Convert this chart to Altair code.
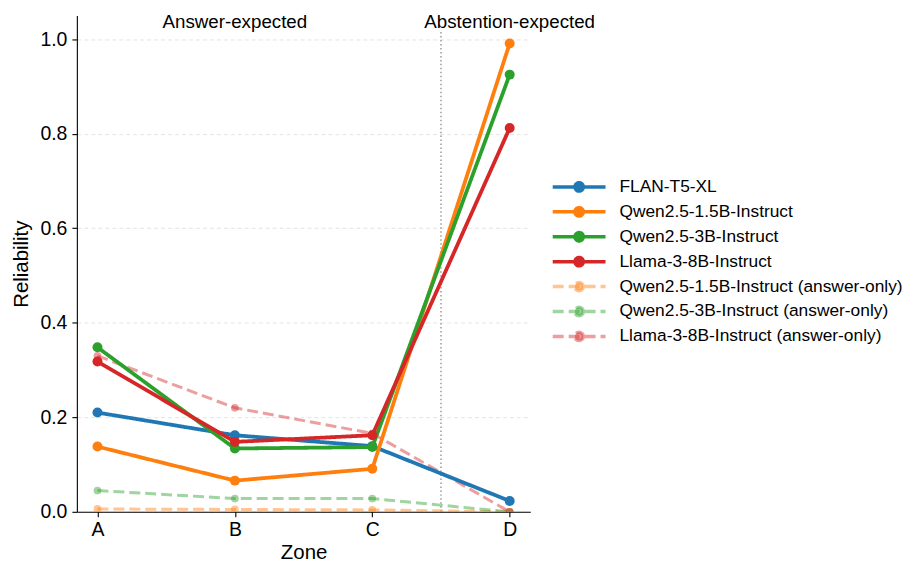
import altair as alt
import pandas as pd

zones = ["A", "B", "C", "D"]
series_names = [
    "FLAN-T5-XL",
    "Qwen2.5-1.5B-Instruct",
    "Qwen2.5-3B-Instruct",
    "Llama-3-8B-Instruct",
    "Qwen2.5-1.5B-Instruct (answer-only)",
    "Qwen2.5-3B-Instruct (answer-only)",
    "Llama-3-8B-Instruct (answer-only)",
]
flan = [0.210, 0.162, 0.139, 0.023]
qwen15 = [0.138, 0.066, 0.091, 0.991]
qwen3 = [0.348, 0.134, 0.137, 0.925]
llama = [0.318, 0.148, 0.162, 0.812]
qwen15_ans = [0.006, 0.005, 0.004, 0.0]
qwen3_ans = [0.045, 0.028, 0.028, 0.0]
llama_ans = [0.330, 0.220, 0.166, 0.0]
series_values = [flan, qwen15, qwen3, llama, qwen15_ans, qwen3_ans, llama_ans]

colors = [
    "#1f77b4", "#ff7f0e", "#2ca02c", "#d62728",
    "rgba(255,127,14,0.45)", "rgba(44,160,44,0.45)", "rgba(214,39,40,0.45)",
]
dashes = [[1, 0]] * 4 + [[11, 5]] * 3

region_labels = ["Answer-expected", "Abstention-expected"]
region_x = [1, 3]
region_y = [1.023, 1.023]
divider_x = [2.5]

rows = []
for name, vals in zip(series_names, series_values):
    for i, (z, v) in enumerate(zip(zones, vals)):
        rows.append({"series": name, "zone": z, "idx": i, "value": v})
df = pd.DataFrame(rows)

label_expr = "[" + ",".join("'%s'" % z for z in zones) + "][datum.value]"

x_enc = alt.X(
    "idx:Q",
    scale=alt.Scale(domain=[-0.15, 3.15], nice=False, zero=False),
    axis=alt.Axis(values=[0, 1, 2, 3], labelExpr=label_expr, title="Zone", grid=False),
)
y_enc = alt.Y(
    "value:Q",
    scale=alt.Scale(domain=[0, 1.05], nice=False, zero=False),
    axis=alt.Axis(values=[0, 0.2, 0.4, 0.6, 0.8, 1.0], format=".1f", title="Reliability", grid=True),
)
color_enc = alt.Color("series:N", scale=alt.Scale(domain=series_names, range=colors), title=None)
dash_enc = alt.StrokeDash("series:N", scale=alt.Scale(domain=series_names, range=dashes), title=None)

base = alt.Chart(df)
layers = []

div_df = pd.DataFrame({"x": divider_x})
layers.append(
    alt.Chart(div_df)
    .mark_rule(color="#9a9a9a", strokeDash=[1.5, 2.5], strokeWidth=1.5)
    .encode(x=alt.X("x:Q"), y=alt.datum(0), y2=alt.datum(1.02))
)

draw_order = [4, 5, 6, 0, 1, 2, 3]
for k in draw_order:
    name = series_names[k]
    dashed = k >= 4
    sub = base.transform_filter(alt.datum.series == name)
    layers.append(
        sub.mark_line(strokeWidth=3.0 if dashed else 3.8, clip=True).encode(
            x=x_enc, y=y_enc, color=color_enc, strokeDash=dash_enc
        )
    )
    layers.append(
        sub.mark_circle(size=60 if dashed else 100, opacity=1, clip=True).encode(
            x=x_enc, y=y_enc, color=color_enc
        )
    )

txt_df = pd.DataFrame({"label": region_labels, "x": region_x, "y": region_y})
layers.append(
    alt.Chart(txt_df)
    .mark_text(fontSize=18.8, baseline="alphabetic", align="center", color="black")
    .encode(x=alt.X("x:Q"), y=alt.Y("y:Q"), text="label:N")
)

chart = (
    alt.layer(*layers)
    .properties(width=455, height=498, padding={"left": 3.1, "top": 3.6, "right": 0, "bottom": 0})
    .configure(font="Liberation Sans")
    .configure_view(stroke=None)
    .configure_axis(
        domainColor="black",
        domainWidth=1.1,
        tickColor="black",
        tickWidth=1.1,
        tickSize=5,
        labelColor="black",
        titleColor="black",
        labelFontSize=19.5,
        titleFontSize=20.5,
        titleFontWeight="normal",
        gridColor="#dddddd",
        gridDash=[4, 3],
        gridWidth=0.8,
    )
    .configure_axisY(titlePadding=8.6, labelPadding=5)
    .configure_axisX(titlePadding=3.4, labelPadding=4)
    .configure_legend(
        orient="none",
        legendX=492,
        legendY=160,
        symbolType="M-2.65,0L2.65,0M0.42,0A0.42,0.42,0,1,1,-0.42,0A0.42,0.42,0,1,1,0.42,0",
        symbolSize=400,
        symbolStrokeWidth=3.5,
        symbolOpacity=1,
        labelFontSize=17.4,
        labelColor="black",
        labelOffset=28.5,
        rowPadding=1,
        padding=0,
        labelLimit=400,
    )
)

chart.save("out.html", embed_options={"renderer": "svg", "actions": False})
